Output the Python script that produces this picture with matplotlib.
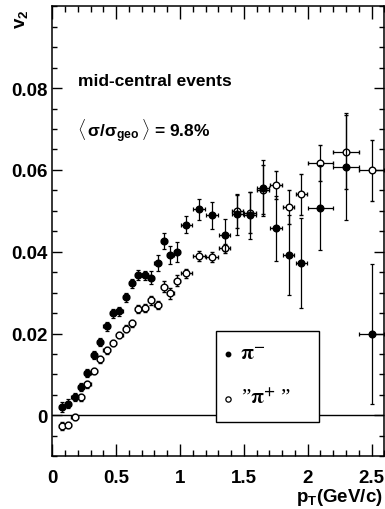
import matplotlib
matplotlib.use('Agg')
import matplotlib.pyplot as plt
from matplotlib.patches import Rectangle
from matplotlib.ticker import MultipleLocator

plt.rcParams['font.family'] = ['Liberation Sans', 'DejaVu Sans']
plt.rcParams['font.weight'] = 'bold'
plt.rcParams['mathtext.fontset'] = 'custom'
plt.rcParams['mathtext.rm'] = 'Liberation Sans:bold'
plt.rcParams['mathtext.bf'] = 'Liberation Sans:bold'
plt.rcParams['mathtext.it'] = 'Liberation Sans'

# pT bin centres (GeV/c) and half widths
pt = [0.075, 0.125, 0.175, 0.225, 0.275, 0.325, 0.375, 0.425, 0.475, 0.525,
      0.575, 0.625, 0.675, 0.725, 0.775, 0.825, 0.875, 0.925, 0.975, 1.05,
      1.15, 1.25, 1.35, 1.45, 1.55, 1.65, 1.75, 1.85, 1.95, 2.1, 2.3, 2.5]
pt_err = [0.025] * 19 + [0.045] * 10 + [0.1] * 3

# pi- (filled)
v2_pim = [0.0020, 0.0029, 0.0044, 0.0070, 0.0103, 0.0147, 0.0180, 0.0218, 0.0250, 0.0254,
          0.0289, 0.0323, 0.0343, 0.0342, 0.0337, 0.0372, 0.0427, 0.0392, 0.0400, 0.0466,
          0.0504, 0.0489, 0.0441, 0.0492, 0.0489, 0.0556, 0.0457, 0.0392, 0.0372, 0.0508,
          0.0608, 0.0199]
err_pim = [0.0012, 0.0010, 0.0010, 0.0010, 0.0010, 0.0010, 0.0010, 0.0011, 0.0011, 0.0011,
           0.0011, 0.0011, 0.0012, 0.0012, 0.0016, 0.0019, 0.0020, 0.0023, 0.0025, 0.0021,
           0.0026, 0.0033, 0.0040, 0.0050, 0.0057, 0.0068, 0.0079, 0.0097, 0.0110, 0.0103,
           0.0130, 0.0170]

# "pi+" (open)
v2_pip = [-0.0025, -0.0024, -0.0004, 0.0044, 0.0076, 0.0108, 0.0137, 0.0159, 0.0177, 0.0197,
          0.0212, 0.0225, 0.0260, 0.0263, 0.0281, 0.0270, 0.0315, 0.0298, 0.0329, 0.0347,
          0.0389, 0.0388, 0.0408, 0.0499, 0.0495, 0.0552, 0.0564, 0.0510, 0.0540, 0.0617,
          0.0644, 0.0599]
err_pip = [0.0010, 0.0008, 0.0008, 0.0008, 0.0008, 0.0008, 0.0008, 0.0008, 0.0008, 0.0008,
           0.0008, 0.0008, 0.0010, 0.0010, 0.0010, 0.0010, 0.0013, 0.0013, 0.0013, 0.0012,
           0.0012, 0.0012, 0.0012, 0.0040, 0.0050, 0.0060, 0.0034, 0.0041, 0.0049, 0.0045,
           0.0090, 0.0075]

fig = plt.figure(figsize=(3.85, 5.10), dpi=100)
ax = fig.add_axes([0.1358, 0.1033, 0.8625, 0.8824])

ax.axhline(0, color='black', lw=1.0, zorder=1)

ax.errorbar(pt, v2_pip, xerr=pt_err, yerr=err_pip, fmt='o', ms=4.8, mfc='white', mec='black',
            mew=1.0, ecolor='black', elinewidth=0.9, capsize=1.5, capthick=0.9, zorder=3)
ax.errorbar(pt, v2_pim, xerr=pt_err, yerr=err_pim, fmt='o', ms=4.8, mfc='black', mec='black',
            ecolor='black', elinewidth=0.9, capsize=1.5, capthick=0.9, zorder=4)

ax.set_xlim(0, 2.6)
ax.set_ylim(-0.01, 0.1)
ax.xaxis.set_minor_locator(MultipleLocator(0.1))
ax.yaxis.set_minor_locator(MultipleLocator(0.005))
ax.set_xticks([0, 0.5, 1, 1.5, 2, 2.5])
ax.set_xticklabels(['0', '0.5', '1', '1.5', '2', '2.5'])
ax.set_yticks([0, 0.02, 0.04, 0.06, 0.08])
ax.set_yticklabels(['0', '0.02', '0.04', '0.06', '0.08'])
ax.tick_params(axis='x', which='major', direction='in', length=9, width=1, top=True,
               labelsize=13.5, pad=9)
ax.tick_params(axis='x', which='minor', direction='in', length=4.5, width=1, top=True)
ax.tick_params(axis='y', which='major', direction='in', length=7.5, width=1, right=True,
               labelsize=13.5, pad=3)
ax.tick_params(axis='y', which='minor', direction='in', length=3.3, width=1, right=True)
for s in ax.spines.values():
    s.set_linewidth(1.1)

ax.text(0.0765, 0.835, 'mid-central events', transform=ax.transAxes, fontsize=12.5,
        fontweight='bold', va='center', ha='left')
ax.text(0.0735, 0.724, r'$\langle\,\sigma\mathbf{/}\sigma_{\mathbf{geo}}\,\rangle$ = 9.8%',
        transform=ax.transAxes, fontsize=12.5, fontweight='bold', va='center', ha='left')

# legend box
ax.add_patch(Rectangle((0.492, 0.0756), 0.311, 0.2022, transform=ax.transAxes,
                       facecolor='white', edgecolor='black', lw=1.0, zorder=5))
ax.plot([0.530], [0.2273], 'o', ms=3.2, color='black', transform=ax.transAxes, zorder=6)
ax.plot([0.530], [0.1273], 'o', ms=3.8, mfc='white', mec='black', mew=0.9,
        transform=ax.transAxes, zorder=6)
ax.text(0.566, 0.2290, r'$\mathrm{\pi}^{-}$', transform=ax.transAxes, fontsize=15,
        va='center', ha='left', math_fontfamily='stix', zorder=6)
ax.text(0.568, 0.1310, '\u201d' + r'$\mathrm{\pi}^{+}$' + ' \u201d', transform=ax.transAxes,
        fontsize=15, va='center', ha='left', family='Liberation Serif', fontweight='normal',
        math_fontfamily='stix', zorder=6)

fig.text(0.057, 0.962, r'v$_{\mathbf{2}}$', rotation=90, fontsize=13.5, fontweight='bold',
         ha='center', va='center')
fig.text(0.995, 0.024, r'p$_{\mathbf{T}}$(GeV/c)', fontsize=13.5, fontweight='bold',
         ha='right', va='center')

fig.savefig('out.png', dpi=100)
